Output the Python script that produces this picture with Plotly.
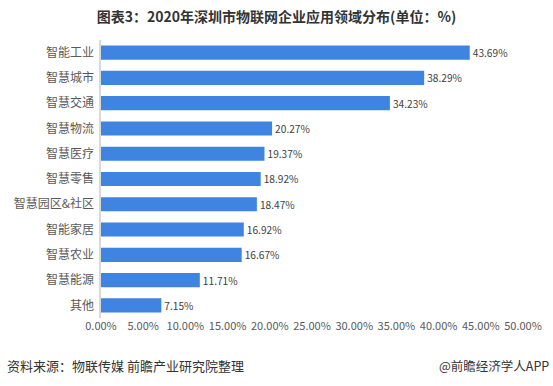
import plotly.graph_objects as go

categories = ["智能工业", "智慧城市", "智慧交通", "智慧物流", "智慧医疗", "智慧零售",
              "智慧园区&社区", "智能家居", "智慧农业", "智慧能源", "其他"]
values = [43.69, 38.29, 34.23, 20.27, 19.37, 18.92, 18.47, 16.92, 16.67, 11.71, 7.15]
tick_vals = [0, 5, 10, 15, 20, 25, 30, 35, 40, 45, 50]
tick_text = [f"{v:.2f}%" for v in tick_vals]
labels = [f"{v:.2f}%" for v in values]

FONT = "Noto Sans CJK SC, Microsoft YaHei, sans-serif"

fig = go.Figure(go.Bar(
    y=categories, x=values, orientation="h",
    marker=dict(color="#3F84E0", line=dict(width=0)),
    text=labels, textposition="outside", cliponaxis=False,
    textfont=dict(size=11.5, color="#404040", family=FONT),
    width=0.56,
))

fig.update_layout(
    width=553, height=386,
    margin=dict(l=101, r=30, t=40, b=68, autoexpand=False),
    paper_bgcolor="white", plot_bgcolor="white",
    showlegend=False,
    font=dict(family=FONT),
    title=dict(text="<b>图表3：2020年深圳市物联网企业应用领域分布(单位：%)</b>",
               x=0.5, xanchor="center", y=0.955, yanchor="middle",
               font=dict(size=14, color="#333333", family=FONT)),
    xaxis=dict(range=[0, 50], tickvals=tick_vals, ticktext=tick_text,
               showgrid=False, zeroline=False, showline=False, automargin=False,
               tickfont=dict(size=11, color="#595959", family=FONT),
               ticks="", ticklen=6),
    yaxis=dict(autorange="reversed", showgrid=False, zeroline=False, automargin=False,
               showline=True, linecolor="#D9D9D9", linewidth=2,
               ticks="", tickfont=dict(size=12, color="#595959", family=FONT),
               ticksuffix=" "),
    annotations=[
        dict(text="资料来源：物联传媒 前瞻产业研究院整理", xref="paper", yref="paper",
             x=-96/422, y=-(365-318)/278, xanchor="left", yanchor="middle",
             showarrow=False, font=dict(size=13, color="#333333", family=FONT)),
        dict(text="@前瞻经济学人APP", xref="paper", yref="paper",
             x=(551-101)/422, y=-(365-318)/278, xanchor="right", yanchor="middle",
             showarrow=False, font=dict(size=12.5, color="#333333", family=FONT)),
    ],
)

fig.write_html("out.html", config={"displayModeBar": False},
               post_script="document.body.style.margin='0';document.body.style.overflow='hidden';")
